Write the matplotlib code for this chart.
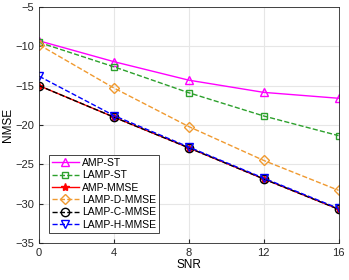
import numpy as np
import matplotlib
matplotlib.use('Agg')
import matplotlib.pyplot as plt

snr = [0, 4, 8, 12, 16]
amp_st = [-9.3, -11.95, -14.3, -15.85, -16.6]
lamp_st = [-9.5, -12.6, -15.9, -18.85, -21.35]
amp_mmse = [-15.0, -19.0, -22.9, -26.85, -30.7]
lamp_d_mmse = [-9.8, -15.3, -20.2, -24.5, -28.3]
lamp_c_mmse = [-15.0, -19.0, -22.9, -26.85, -30.7]
lamp_h_mmse = [-13.8, -18.8, -22.8, -26.75, -30.6]

plt.rcParams['font.family'] = ['Liberation Sans', 'DejaVu Sans']
fig = plt.figure(figsize=(3.49, 2.8), dpi=100)
ax = fig.add_axes([0.112, 0.132, 0.858, 0.843])

ms = 6
ax.plot(snr, amp_st, '-', color='#ff00ff', marker='^', mfc='none', ms=ms, lw=1, label='AMP-ST')
ax.plot(snr, lamp_st, '--', color='#2ca02c', marker='s', mfc='none', ms=5, lw=1, label='LAMP-ST')
ax.plot(snr, amp_mmse, '-', color='red', marker='*', ms=ms, lw=1, label='AMP-MMSE')
ax.plot(snr, lamp_d_mmse, '--', color='#f09a30', marker='D', mfc='none', ms=5, lw=1, label='LAMP-D-MMSE')
ax.plot(snr, lamp_c_mmse, '--', color='black', marker='o', mfc='none', ms=ms, lw=1, label='LAMP-C-MMSE')
ax.plot(snr, lamp_h_mmse, '--', color='blue', marker='v', mfc='none', ms=ms, lw=1, label='LAMP-H-MMSE')

ax.set_xlim(0, 16)
ax.set_ylim(-35, -5)
ax.set_xticks(snr)
ax.set_yticks(np.arange(-35, -4, 5))
ax.grid(True, color='#e6e6e6', lw=0.8)
ax.set_axisbelow(True)
ax.tick_params(direction='in', labelsize=8, colors='#262626', length=3)
for s in ax.spines.values():
    s.set_color('#262626')
    s.set_linewidth(0.6)
ax.set_xlabel('SNR', fontsize=8.5, labelpad=1)
ax.set_ylabel('NMSE', fontsize=8.5, labelpad=1)

leg = ax.legend(loc='lower left', bbox_to_anchor=(0.025, 0.035), fontsize=7.5,
                fancybox=False, edgecolor='#262626', framealpha=1,
                handlelength=2.6, borderpad=0.3, labelspacing=0.22,
                handletextpad=0.3, borderaxespad=0.2)
leg.get_frame().set_linewidth(0.6)

fig.savefig('out.png', dpi=100)
